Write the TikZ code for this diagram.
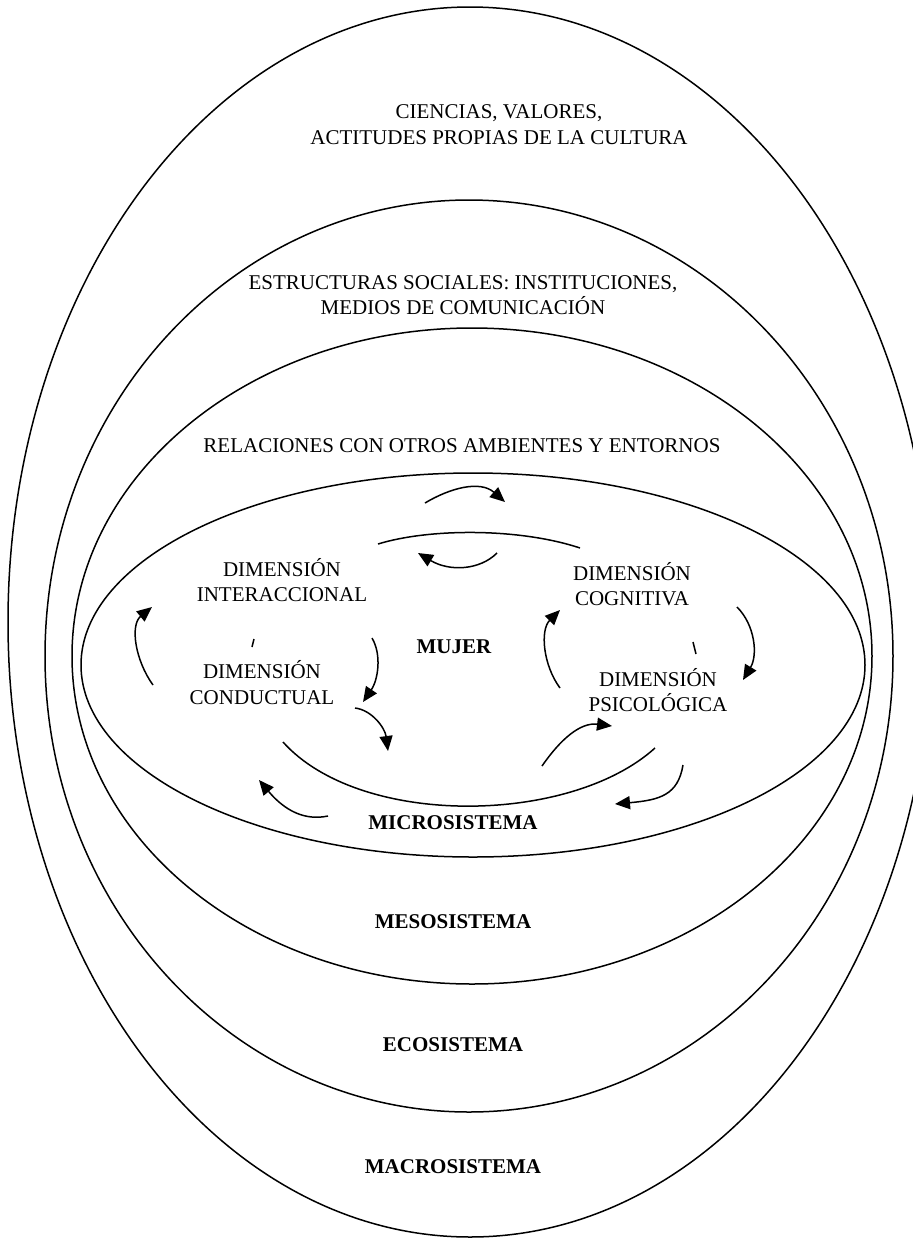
\documentclass[tikz,border=0pt]{standalone}
\usepackage{fontspec}
\setmainfont{Liberation Serif}
\usetikzlibrary{arrows.meta}

\begin{document}
\begin{tikzpicture}[x=0.5pt,y=-0.5pt,
  ring/.style={draw,line width=0.75pt},
  txt/.style={align=center,inner sep=0pt,font=\fontsize{10.5}{12.75}\selectfont},
  sys/.style={txt,font=\fontsize{10.5}{12.75}\selectfont\bfseries},
  flow/.style={line width=0.75pt,-{Triangle[length=7.5pt,width=6.5pt]}}]
\clip (0,0) rectangle (913,1238);
\draw[ring] (470,622) ellipse [x radius=231pt,y radius=307.5pt];
\draw[ring] (469,656) ellipse [x radius=212pt,y radius=228pt];
\draw[ring] (472,656) ellipse [x radius=200pt,y radius=164pt];
\draw[ring] (473,665) ellipse [x radius=196pt,y radius=96pt];

\node[txt] (cultura) at (499,124.5) {CIENCIAS, VALORES,\\ACTITUDES PROPIAS DE LA CULTURA};
\node[txt] (estruct) at (463,295) {ESTRUCTURAS SOCIALES: INSTITUCIONES,\\MEDIOS DE COMUNICACIÓN};
\node[txt] (relac) at (462,446) {RELACIONES CON OTROS AMBIENTES Y ENTORNOS};
\node[txt] (interacc) at (282,580) {DIMENSIÓN\\INTERACCIONAL};
\node[txt] (conduct) at (262,682.5) {DIMENSIÓN\\CONDUCTUAL};
\node[txt] (cognit) at (632,584) {DIMENSIÓN\\COGNITIVA};
\node[txt] (psico) at (658,690) {DIMENSIÓN\\PSICOLÓGICA};
\node[sys] (mujer) at (454,647) {MUJER};
\node[sys] (micro) at (453,823) {MICROSISTEMA};
\node[sys] (meso) at (453,922) {MESOSISTEMA};
\node[sys] (eco) at (453,1045) {ECOSISTEMA};
\node[sys] (macro) at (453,1167) {MACROSISTEMA};

\coordinate (u1) at (378,544); \coordinate (u2) at (580,548);
\coordinate (l1) at (283,742); \coordinate (l2) at (655,748);
\draw[ring] (u1) .. controls (430,528) and (520,528) .. (u2);
\draw[ring] (l1) .. controls (360,828) and (570,825) .. (l2);

\coordinate (a1) at (425,503); \coordinate (a2) at (505,502);
\coordinate (b1) at (497,553); \coordinate (b2) at (418,553);
\coordinate (c1) at (153,685); \coordinate (c2) at (152,607);
\coordinate (d1) at (372,638); \coordinate (d2) at (363,702);
\coordinate (e1) at (355,708); \coordinate (e2) at (388,751);
\coordinate (f1) at (328,816); \coordinate (f2) at (259,780);
\coordinate (g1) at (737,607); \coordinate (g2) at (743,680);
\coordinate (h1) at (560,688); \coordinate (h2) at (560,610);
\coordinate (i1) at (542,766); \coordinate (i2) at (612,726);
\coordinate (j1) at (683,765); \coordinate (j2) at (615,804);
\draw[flow] (a1) .. controls (450,488) and (480,480) .. (a2);
\draw[flow] (b1) .. controls (480,570) and (450,572) .. (b2);
\draw[flow] (c1) .. controls (135,660) and (130,625) .. (c2);
\draw[flow] (d1) .. controls (382,655) and (378,680) .. (d2);
\draw[flow] (e1) .. controls (372,710) and (385,728) .. (e2);
\draw[flow] (f1) .. controls (300,822) and (280,805) .. (f2);
\draw[flow] (g1) .. controls (755,625) and (758,655) .. (g2);
\draw[flow] (h1) .. controls (543,665) and (540,630) .. (h2);
\draw[flow] (i1) .. controls (560,740) and (580,722) .. (i2);
\draw[flow] (j1) .. controls (678,795) and (660,800) .. (j2);

\coordinate (t1) at (254,639); \coordinate (t2) at (252,647);
\coordinate (t3) at (693,642); \coordinate (t4) at (696,654);
\draw[ring] (t1) -- (t2);
\draw[ring] (t3) -- (t4);
\end{tikzpicture}
\end{document}
